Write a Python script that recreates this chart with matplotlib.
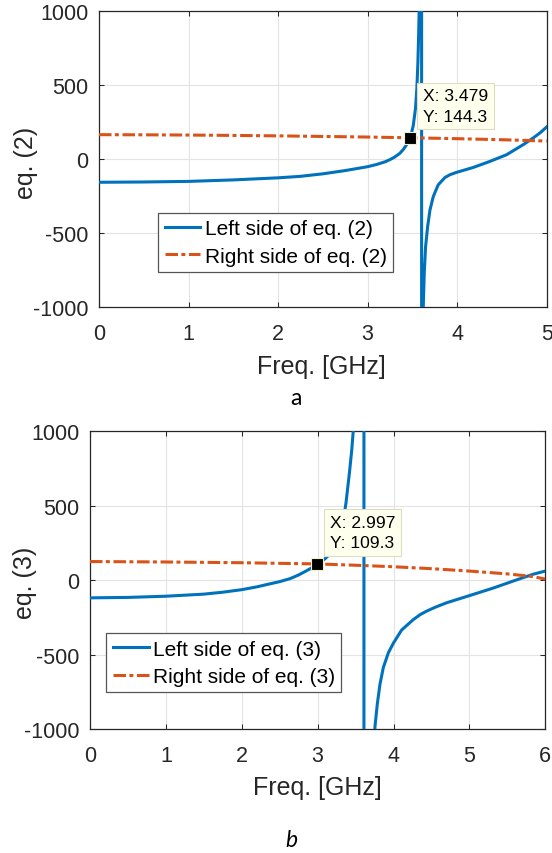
import matplotlib
matplotlib.use('Agg')
import matplotlib.pyplot as plt

plt.rcParams['font.family'] = ['Liberation Sans', 'DejaVu Sans']
plt.rcParams['axes.unicode_minus'] = False

# ---- data ----
# (a) eq. (2), 0..5 GHz ; the big values around 3.6 GHz are the jump through the pole
freq_a_left = [0, 0.5, 1.0, 1.5, 2.0, 2.25, 2.5, 2.75, 3.0, 3.1, 3.2, 3.25, 3.3, 3.36, 3.4,
               3.44, 3.479, 3.51, 3.535, 3.55, 3.562, 3.57, 3.576, 3.585, 3.595, 3.603,
               3.604, 3.612, 3.622, 3.633, 3.648, 3.671, 3.697, 3.734, 3.789, 3.864, 3.92,
               3.994, 4.18, 4.367, 4.553, 4.739, 4.85, 4.93, 5.0]
left_a = [-157, -155, -151, -141, -127, -117, -100, -78, -52, -37, -18, -4, 12, 38, 65,
          100, 144.3, 225, 340, 470, 650, 830, 1000, 1500, 4000, 1e5,
          -1e5, -2500, -996, -770, -590, -455, -343, -253, -174, -125, -106,
          -90, -57, -16, 29, 97, 142, 178, 216]
freq_a_right = [0, 0.5, 1, 1.5, 2, 2.5, 3, 3.5, 4, 4.5, 5]
right_a = [164, 163, 161.5, 159, 156, 152, 148, 143, 137, 130, 121]
tip_a = (3.479, 144.3)

# (b) eq. (3), 0..6 GHz
freq_b_left = [0, 0.5, 1.0, 1.5, 1.75, 2.0, 2.2, 2.37, 2.5, 2.636, 2.75, 2.85, 2.93, 2.997,
               3.05, 3.1, 3.15, 3.2, 3.25, 3.3, 3.34, 3.374, 3.418, 3.449, 3.47, 3.5,
               3.55, 3.6, 3.61,
               3.611, 3.65, 3.7, 3.73, 3.756, 3.787, 3.822, 3.866, 3.932, 4.0, 4.107,
               4.261, 4.35, 4.437, 4.55, 4.7, 5.0, 5.315, 5.623, 5.842, 6.0]
left_b = [-119, -116, -108, -94, -81, -64, -45, -25, -10, 10, 35, 62, 85, 109.3,
          125, 145, 170, 200, 245, 310, 400, 520, 715, 870, 1005, 1400,
          2500, 1e4, 1e5,
          -1e5, -4000, -1800, -1300, -983, -830, -698, -587, -488, -422, -335,
          -265, -232, -208, -182, -152, -104, -53, 2, 40, 61]
freq_b_right = [0, 1, 2, 3, 3.56, 4, 4.5, 5, 5.5, 5.84, 6]
right_b = [125, 122, 117, 109, 99, 90, 77, 61, 42, 24, 7]
tip_b = (2.997, 109.3)

blue = '#0072BD'
red = '#D95319'
txt = '#262626'
dashdot = (0, (4.1, 1.1, 1.3, 1.2))

fig = plt.figure(figsize=(5.52, 8.54), dpi=100)
ax1 = fig.add_axes([0.1793, 0.639, 0.811, 0.3473])
ax2 = fig.add_axes([0.163, 0.1452, 0.8248, 0.3486])

panels = [
    (ax1, freq_a_left, left_a, freq_a_right, right_a, tip_a, '(2)', 5,
     (0.1325, 0.318), (-0.164, 0.489), (0.497, -0.198)),
    (ax2, freq_b_left, left_b, freq_b_right, right_b, tip_b, '(3)', 6,
     (0.0362, 0.3215), (-0.1436, 0.495), (0.4986, -0.1965)),
]

for ax, fl, vl, fr, vr, tip, eq, fmax, leg_pos, ylab_pos, xlab_pos in panels:
    ax.plot(fl, vl, color=blue, lw=2.2, label='Left side of eq. ' + eq, zorder=3)
    ax.plot(fr, vr, color=red, lw=2.2, linestyle=dashdot,
            label='Right side of eq. ' + eq, zorder=3)
    ax.plot([tip[0]], [tip[1]], marker='s', ms=8, color='black',
            markeredgecolor='#f2f0c8', markeredgewidth=0.8, zorder=6)
    ax.annotate('X: %.3f\nY: %.1f' % tip, xy=tip, xytext=(9.0, 10.0),
                textcoords='offset points', ha='left', va='bottom', fontsize=12.6,
                color='black', linespacing=1.45, zorder=7,
                bbox=dict(boxstyle='square,pad=0.32', facecolor='#ffffee',
                          edgecolor='#dcdcc0', linewidth=0.8))

    ax.set_xlim(0, fmax)
    ax.set_ylim(-1000, 1000)
    ax.set_xticks(range(fmax + 1))
    ax.set_yticks([-1000, -500, 0, 500, 1000])
    ax.grid(True, color='#e3e3e3', linewidth=0.8)
    ax.set_axisbelow(True)
    ax.tick_params(direction='in', length=3.5, width=0.75, colors=txt,
                   labelsize=15.5, top=True, right=True)
    ax.tick_params(axis='y', pad=7.5)
    ax.tick_params(axis='x', pad=11.5)
    for s in ax.spines.values():
        s.set_color(txt)
        s.set_linewidth(0.9)

    ax.set_ylabel('eq. ' + eq, fontsize=18, color=txt, va='center')
    ax.yaxis.set_label_coords(*ylab_pos)
    ax.set_xlabel('Freq. [GHz]', fontsize=18, color=txt, va='center')
    ax.xaxis.set_label_coords(*xlab_pos)

    leg = ax.legend(loc='upper left', bbox_to_anchor=leg_pos, borderaxespad=0,
                    fontsize=15, handlelength=1.72, handletextpad=0.2,
                    borderpad=0.3, labelspacing=0.4, fancybox=False,
                    framealpha=1, edgecolor='#555555')
    leg.get_frame().set_linewidth(0.9)
    for t in leg.get_texts():
        t.set_color('black')

fig.text(0.5368, 1 - 405 / 854, 'a', fontsize=16.5, ha='center', va='baseline',
         family=['Lato', 'DejaVu Sans'], color='black')
fig.text(0.5285, 1 - 846.7 / 854, 'b', fontsize=16.5, ha='center', va='baseline',
         style='italic', family=['Lato', 'DejaVu Sans'], color='black')

fig.savefig('out.png', dpi=100, facecolor='white')
